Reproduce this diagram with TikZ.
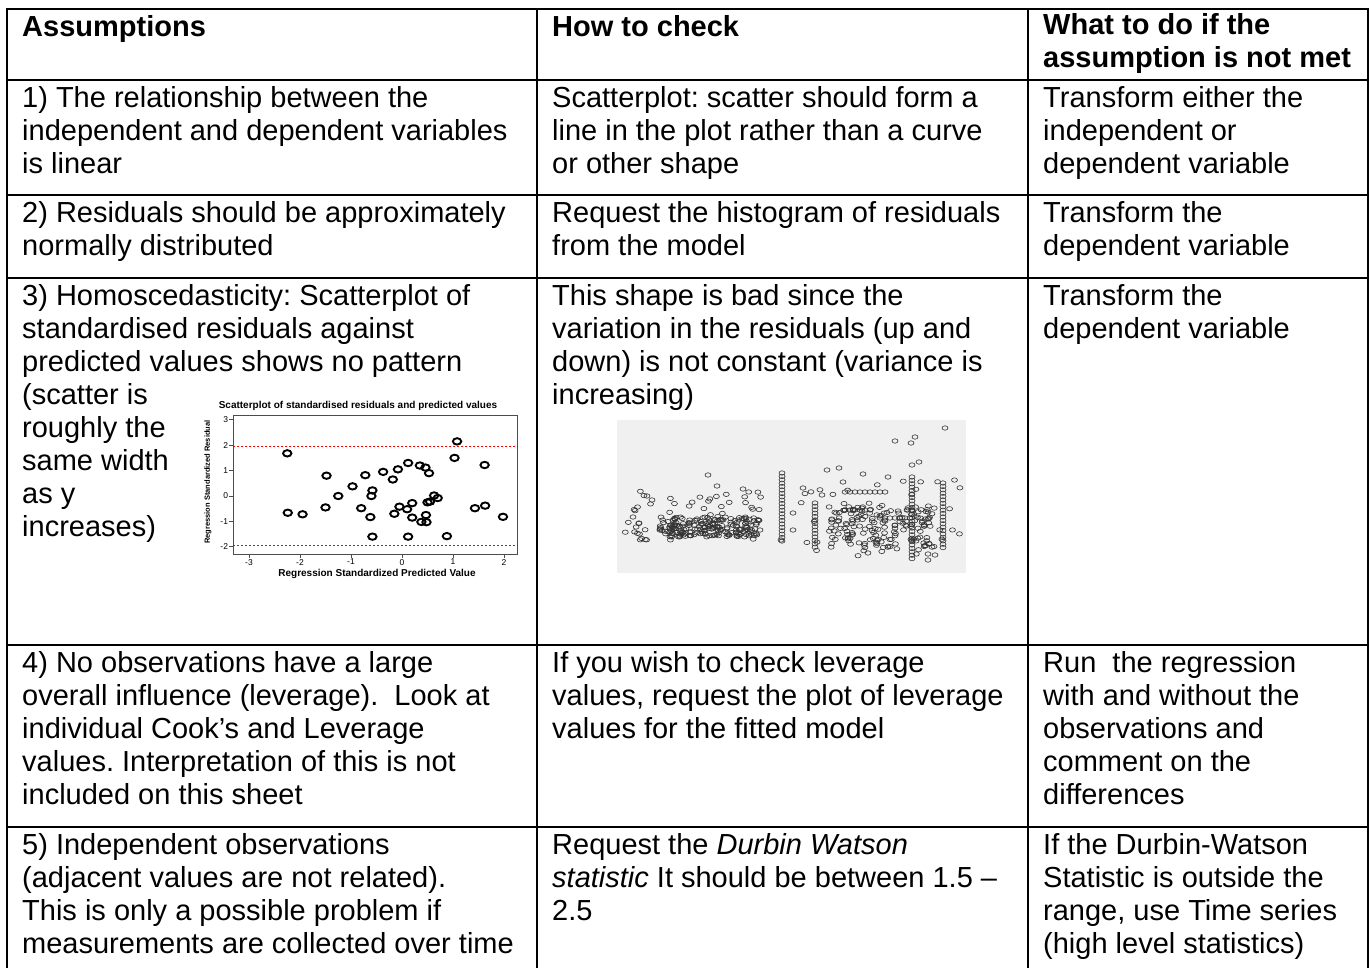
\documentclass[tikz,border=0pt]{standalone}
\usepackage{fontspec}
\setmainfont{Liberation Sans}
\frenchspacing

\begin{document}
\begin{tikzpicture}[x=1pt,y=-1pt,
  rule/.style={line width=2pt},
  cell/.style={anchor=north west,inner sep=0pt,align=left,font=\fontsize{29}{33}\selectfont,execute at begin node=\strut},
  head/.style={cell,font=\fontsize{29}{33}\selectfont\bfseries},
  ring/.style={draw=black,line width=1.9pt},
  speck/.style={draw=black!80,line width=0.6pt},
  cutoff/.style={draw=red,line width=1.4pt,dash pattern=on 2pt off 2pt},
  tick/.style={font=\fontsize{8.5}{8.5}\selectfont,inner sep=1pt},
  axis/.style={font=\fontsize{10}{10}\selectfont\bfseries,inner sep=0pt}]

\useasboundingbox (0,0) rectangle (1371,968);

\draw[rule] (7,968) -- (7,9) -- (1368,9) -- (1368,968);
\foreach \x in {537,1028} \draw[rule] (\x,9) -- (\x,968);
\foreach \y in {80,195,278,645,827} \draw[rule] (7,\y) -- (1368,\y);

\node[head] (hAssume) at (22,13) {Assumptions};
\node[head] (hCheck) at (552,13) {How to check};
\node[head] (hFix) at (1043,13) {What to do if the\\assumption is not met};

\node[cell] (aLinear) at (22,86) {1) The relationship between the\\independent and dependent variables\\is linear};
\node[cell] (cLinear) at (552,86) {Scatterplot: scatter should form a\\line in the plot rather than a curve\\or other shape};
\node[cell] (fLinear) at (1043,86) {Transform either the\\independent or\\dependent variable};

\node[cell] (aNormal) at (22,201) {2) Residuals should be approximately\\normally distributed};
\node[cell] (cNormal) at (552,201) {Request the histogram of residuals\\from the model};
\node[cell] (fNormal) at (1043,201) {Transform the\\dependent variable};

\node[cell] (aHomo) at (22,284) {3) Homoscedasticity: Scatterplot of\\standardised residuals against\\predicted values shows no pattern\\(scatter is\\roughly the\\same width\\as y\\increases)};
\node[cell] (cHomo) at (552,284) {This shape is bad since the\\variation in the residuals (up and\\down) is not constant (variance is\\increasing)};
\node[cell] (fHomo) at (1043,284) {Transform the\\dependent variable};

\node[cell] (aLever) at (22,651) {4) No observations have a large\\overall influence (leverage).\ \ Look at\\individual Cook’s and Leverage\\values. Interpretation of this is not\\included on this sheet};
\node[cell] (cLever) at (552,651) {If you wish to check leverage\\values, request the plot of leverage\\values for the fitted model};
\node[cell] (fLever) at (1043,651) {Run\ \ the regression\\with and without the\\observations and\\comment on the\\differences};

\node[cell] (aIndep) at (22,833) {5) Independent observations\\(adjacent values are not related).\\This is only a possible problem if\\measurements are collected over time};
\node[cell] (cIndep) at (552,833) {Request the \textit{Durbin Watson}\\\textit{statistic} It should be between 1.5 –\\2.5};
\node[cell] (fIndep) at (1043,833) {If the Durbin-Watson\\Statistic is outside the\\range, use Time series\\(high level statistics)};

\node[axis] (plotTitle) at (358,406) {Scatterplot of standardised residuals and predicted values};
\node[axis] (xLabel) at (377,574) {Regression Standardized Predicted Value};
\node[axis,font=\fontsize{7.5}{7.5}\selectfont\bfseries,rotate=90] (yLabel) at (208,482) {Regression Standardized Residual};
\begin{scope}[shift={(402,496)},x=51pt,y=25.4pt]
  \draw[black!70,line width=0.7pt] (-3.31,-2.28) rectangle (2.27,3.19);
  \foreach \v [count=\k] in {-2,...,3} {
    \draw[black!70,line width=0.7pt] (-3.31,\v) -- ++(-4pt,0);
    \node[tick,anchor=east] (yTick\k) at ([xshift=-4pt]-3.31,\v) {\v};
  }
  \foreach \v [count=\k] in {-3,...,2} {
    \draw[black!70,line width=0.7pt] (\v,-2.28) -- ++(0,-4pt);
    \node[tick,anchor=north] (xTick\k) at ([yshift=-4pt]\v,-2.28) {\v};
  }
  \draw[cutoff] (-3.31,1.96) -- (2.27,1.96);
  \draw[cutoff] (-3.31,-1.96) -- (2.27,-1.96);
  \foreach \u/\v in {-2.25/1.68,-2.24/-0.66,-1.95/-0.72,-1.48/0.8,-1.5/-0.45,-1.25/0,-0.97/0.38,
      -0.8/-0.48,-0.72/0.82,-0.58/0.22,-0.6/0,-0.62/-0.83,-0.58/-1.6,-0.37/0.95,-0.18/0.65,
      -0.08/1.05,0.12/1.3,-0.15/-0.7,-0.05/-0.42,0.1/-0.52,0.2/-0.28,0.2/-0.85,0.12/-1.6,
      0.35/1.2,0.46/1.12,0.53/0.9,0.38/-1.02,0.47/-0.75,0.48/-1.03,0.5/-0.25,0.55/-0.22,
      0.63/0.02,0.7/-0.08,0.88/-1.58,1.03/1.5,1.08/2.15,1.43/-0.48,1.62/1.22,1.63/-0.38,1.98/-0.82}
    \draw[ring] (\u,\v) ellipse [x radius=4.2pt,y radius=3.2pt];
\end{scope}

\fill[black!6] (617,420) rectangle (966,573);
\pgfmathsetseed{4}
\foreach \xa/\xw/\ya/\yh/\n in {660/100/517/20/190,630/140/490/50/50,830/105/505/45/140,800/160/480/80/60,625/30/520/20/6} {
  \foreach \i in {1,...,\n} {
    \pgfmathsetmacro\gx{\xa+\xw*rnd}
    \pgfmathsetmacro\gy{\ya+\yh*rnd}
    \draw[speck] (\gx,\gy) ellipse [x radius=3pt,y radius=2.2pt];
  }
}
\foreach \sx/\sy/\n in {782/473/20,815/503/13,912/477/24,943/483/19} {
  \foreach \k in {0,...,\n} \draw[speck] (\sx,\sy+3.4*\k) ellipse [x radius=3pt,y radius=2.2pt];
}
\foreach \sx/\sy/\n in {845/492/8,845/510/5,880/518/6} {
  \foreach \k in {0,...,\n} \draw[speck] (\sx+5*\k,\sy) ellipse [x radius=3pt,y radius=2.2pt];
}
\foreach \u/\v in {708/475,717/486,647/496,743/489,652/500,633/517,639/523,827/470,839/468,863/474,
    843/482,945/428,915/437,895/441,911/443,919/462,912/465,888/477,868/553,928/554,935/555,928/560,
    793/513,793/530,781/540,760/530,803/488,822/495}
  \draw[speck] (\u,\v) ellipse [x radius=3pt,y radius=2.2pt];
\end{tikzpicture}
\end{document}
